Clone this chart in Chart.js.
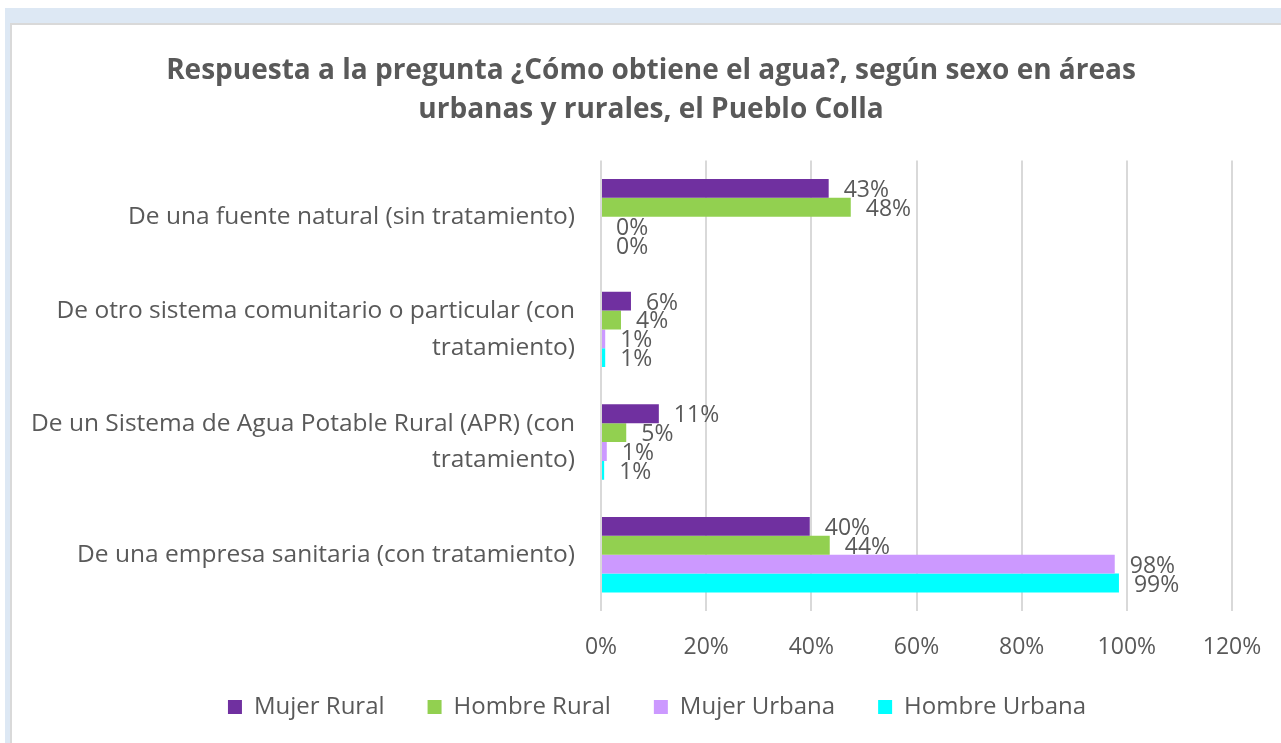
<!DOCTYPE html>
<html>
<head>
<meta charset="utf-8">
<script src="https://cdn.jsdelivr.net/npm/chart.js@4/dist/chart.umd.min.js"></script>
<style>
  html, body { margin: 0; padding: 0; background: #ffffff; overflow: hidden; }
  #frame { position: absolute; left: 5px; top: 8px; width: 1276px; height: 735px; background: #dde8f4; }
  #panel { position: absolute; left: 5px; top: 15px; width: 1269px; height: 720px; background: #ffffff;
           border-left: 2px solid #d9d9d9; border-top: 2px solid #d9d9d9; }
  canvas { display: block; }
</style>
</head>
<body>
<div id="frame"><div id="panel"><canvas id="chart" width="1269" height="718"></canvas></div></div>
<script>
const categories = [
    "De una fuente natural (sin tratamiento)",
    ["De otro sistema comunitario o particular (con", "tratamiento)"],
    ["De un Sistema de Agua Potable Rural (APR) (con", "tratamiento)"],
    "De una empresa sanitaria (con tratamiento)"
];
const seriesNames = ["Mujer Rural", "Hombre Rural", "Mujer Urbana", "Hombre Urbana"];
const mujerRural = [43.3, 5.7, 11.0, 39.7];
const hombreRural = [47.5, 3.8, 4.8, 43.5];
const mujerUrbana = [0, 0.8, 1.1, 97.7];
const hombreUrbana = [0, 0.8, 0.6, 98.5];
const xTicks = [0, 20, 40, 60, 80, 100, 120];

const colors = ["#7030a0", "#92d050", "#cc99ff", "#00ffff"];
const textColor = "#595959";
const fontFamily = "'Open Sans', sans-serif";

// value labels drawn at the end of each bar
const barLabels = {
    id: "barLabels",
    afterDatasetsDraw(chart) {
        const ctx = chart.ctx;
        ctx.save();
        ctx.font = "23px " + fontFamily;
        ctx.fillStyle = textColor;
        ctx.textAlign = "left";
        ctx.textBaseline = "middle";
        chart.data.datasets.forEach((ds, i) => {
            chart.getDatasetMeta(i).data.forEach((bar, j) => {
                ctx.fillText(Math.round(ds.data[j]) + "%", bar.x + 15, bar.y + 2);
            });
        });
        ctx.restore();
    }
};

// nudge title and legend so they sit where the original has them
const nudgeBoxes = {
    id: "nudgeBoxes",
    afterLayout(chart) {
        const t = chart.titleBlock, lg = chart.legend;
        t.left += 24; t.right += 24;
        lg.left += 30; lg.right += 30;
        lg.top -= 10; lg.bottom -= 10;
    }
};

const seriesData = [mujerRural, hombreRural, mujerUrbana, hombreUrbana];

new Chart(document.getElementById("chart"), {
    type: "bar",
    data: {
        labels: categories,
        datasets: seriesNames.map((name, i) => ({
            label: name,
            data: seriesData[i],
            backgroundColor: colors[i],
            borderWidth: 0,
            barPercentage: 1.0,
            categoryPercentage: 0.67
        }))
    },
    options: {
        indexAxis: "y",
        responsive: false,
        animation: false,
        layout: { padding: { left: 10, right: 49, top: 14, bottom: 4 } },
        plugins: {
            title: {
                display: true,
                text: ["Respuesta a la pregunta ¿Cómo obtiene el agua?, según sexo en áreas", "urbanas y rurales, el Pueblo Colla"],
                color: textColor,
                font: { family: fontFamily, size: 28, weight: "bold", lineHeight: 1.4 },
                padding: { top: 12, bottom: 31 }
            },
            legend: {
                position: "bottom",
                labels: {
                    color: textColor,
                    font: { family: fontFamily, size: 24 },
                    boxWidth: 14,
                    boxHeight: 14,
                    padding: 43
                }
            },
            tooltip: { enabled: false }
        },
        scales: {
            x: {
                min: 0,
                max: 120,
                afterBuildTicks: (scale) => { scale.ticks = xTicks.map(v => ({ value: v })); },
                afterFit: (scale) => { scale.height = 51; scale.paddingRight = 0; },
                ticks: {
                    color: textColor,
                    font: { family: fontFamily, size: 23 },
                    padding: 23,
                    callback: (v) => v + "%"
                },
                grid: { color: "#d9d9d9", lineWidth: 2, drawTicks: false },
                border: { display: false }
            },
            y: {
                afterFit: (scale) => { scale.width = 579; },
                ticks: {
                    color: textColor,
                    font: { family: fontFamily, size: 24.5, lineHeight: 1.5 },
                    padding: 18
                },
                grid: { display: false },
                border: { display: false }
            }
        }
    },
    plugins: [barLabels, nudgeBoxes]
});
</script>
</body>
</html>
